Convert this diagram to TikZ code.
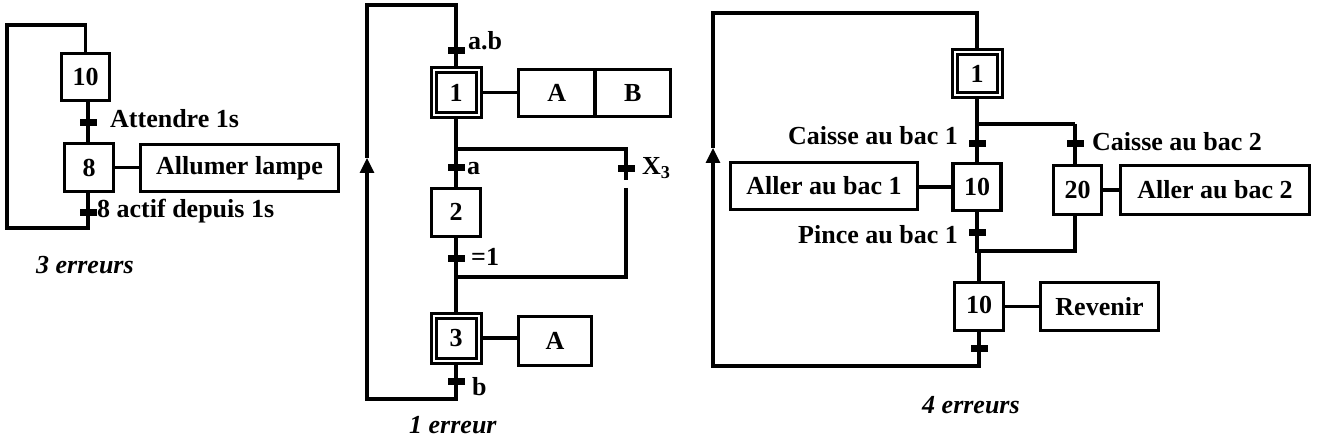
\documentclass[tikz,border=0pt]{standalone}
\usepackage{fontspec}
\setmainfont{Liberation Serif}
\usetikzlibrary{arrows.meta,calc}
\begin{document}
\begin{tikzpicture}[x=1pt,y=-1pt,
  every node/.style={font=\fontsize{26}{30}\selectfont\bfseries},
  etape/.style={draw,line width=3.3pt,inner sep=0pt},
  initiale/.style={draw,line width=3pt,double,double distance=2pt,inner sep=0pt},
  actionbox/.style={draw,line width=3.3pt,inner sep=0pt},
  trans/.style={fill=black,draw=none,inner sep=0pt,minimum width=17pt,minimum height=7pt},
  txt/.style={inner sep=0pt},
  bilan/.style={inner sep=0pt,font=\fontsize{26}{30}\selectfont\bfseries\itshape},
  ligne/.style={line width=3.2pt},
  fleche/.style={line width=3.2pt,-{Triangle[length=15pt,width=14pt]}}]
\useasboundingbox (0,0) rectangle (1318,441);

% ---------------- Diagram 1 ----------------
\node[etape,minimum width=48pt,minimum height=47pt] (a10) at (85.5,77) {10};
\node[etape,minimum width=49pt,minimum height=48pt] (a8) at (89,167.5) {8};
\node[actionbox,minimum width=198pt,minimum height=47pt] (aact) at (239.5,168) {Allumer lampe};
\node[trans] (at1) at (88,123) {};
\node[trans] (at2) at (88,212) {};
\coordinate (L1a) at (7,25);
\coordinate (L1b) at (7,228);
\draw[ligne] (a10.south -| at1) -- (a8.north -| at1);
\draw[ligne] (a8.east) -- (a8.east -| aact.west);
\draw[ligne] (a8.south -| at2) -- (L1b -| at2) -- (L1b) -- (L1a) -- (L1a -| a10.north) -- (a10.north);
\node[txt,anchor=base west] (al1) at (110,128) {Attendre 1s};
\node[txt,anchor=base west] (al2) at (97,218) {8 actif depuis 1s};
\node[bilan,anchor=base west] (ae) at (36,273) {3 erreurs};

% ---------------- Diagram 2 ----------------
\node[initiale,minimum size=45pt] (b1) at (456,92.5) {1};
\node[actionbox,minimum width=76.5pt,minimum height=47pt] (bA) at (556.75,93) {A};
\node[actionbox,minimum width=75.5pt,minimum height=47pt] (bB) at (632.75,93) {B};
\node[etape,minimum width=49pt,minimum height=48pt] (b2) at (456,212.5) {\raisebox{2pt}{2}\hspace{4pt}};
\node[initiale,minimum size=45pt] (b3) at (456,338) {3};
\node[actionbox,minimum width=73pt,minimum height=49pt] (bA3) at (555,341) {A};
\node[trans] (bt1) at (456,51) {};
\node[trans] (bt2) at (456,168) {};
\node[trans] (bt3) at (456,258) {};
\node[trans] (bt4) at (626,169) {};
\node[trans] (bt5) at (456,381) {};
\coordinate (T2a) at (367,5);
\coordinate (T2b) at (367,399);
\coordinate (arr2) at (367,158);
\coordinate (D1) at (626,149);
\coordinate (G1) at (626,180);
\coordinate (G2) at (626,188);
\coordinate (J1) at (626,277);
\draw[ligne] (b1.east) -- (b1.east -| bA.west);
\draw[ligne] (b3.east) -- (b3.east -| bA3.west);
\draw[ligne] (b1.south) -- (b1.south |- D1) -- (D1) -- (G1);
\draw[ligne] (b1.south |- D1) -- (b2.north);
\draw[ligne] (G2) -- (J1) -- (J1 -| b2.south);
\draw[ligne] (b2.south) -- (b3.north);
\draw[fleche] (b3.south) -- (b3.south |- T2b) -- (T2b) -- (arr2);
\draw[ligne] (arr2) -- (T2a) -- (T2a -| b1.north) -- (b1.north);
\node[txt,anchor=base west] (bl1) at (468,50) {a.b};
\node[txt,anchor=base west] (bl2) at (467,175) {a};
\node[txt,anchor=base west] (bl3) at (471,265) {=1};
\node[txt,anchor=base west] (bl4) at (642,175) {X\textsubscript{3}};
\node[txt,anchor=base west] (bl5) at (472,395) {b};
\node[bilan,anchor=base west] (be) at (409,433) {1 erreur};

% ---------------- Diagram 3 ----------------
\node[initiale,minimum width=45pt,minimum height=43pt] (c1) at (977,73.5) {1};
\node[etape,minimum width=48pt,minimum height=47pt] (c10a) at (977,187) {10};
\node[etape,minimum width=48pt,minimum height=49pt] (c20) at (1077.5,190) {20};
\node[etape,minimum width=49pt,minimum height=48pt] (c10b) at (979,306.5) {\raisebox{4pt}{10}\hspace{4pt}};
\node[actionbox,minimum width=187pt,minimum height=47pt] (cL) at (824,186) {Aller au bac 1};
\node[actionbox,minimum width=189pt,minimum height=49pt] (cR) at (1215,190) {Aller au bac 2};
\node[actionbox,minimum width=118pt,minimum height=48pt] (cRev) at (1099.5,306.5) {Revenir};
\node[trans] (ct1) at (977,144) {};
\node[trans] (ct2) at (1075,144) {};
\node[trans] (ct3) at (977,232) {};
\node[trans] (ct4) at (979,348) {};
\coordinate (T3a) at (713,13);
\coordinate (T3b) at (713,366);
\coordinate (arr3) at (713,148);
\coordinate (D3) at (1075,124);
\coordinate (J3) at (1075,251);
\draw[ligne] (c1.south) |- (D3);
\draw[ligne] (c10a.north) -- (c1.south);
\draw[ligne] (D3) -- (D3 |- c20.north);
\draw[ligne] (c10a.west) -- (c10a.west -| cL.east);
\draw[ligne] (c20.east) -- (c20.east -| cR.west);
\draw[ligne] (c10b.east) -- (c10b.east -| cRev.west);
\draw[ligne] (c10a.south) -- (c10a.south |- J3) -- (c10b.north |- J3) -- (c10b.north);
\draw[ligne] (c20.south -| D3) -- (J3) -- (J3 -| c10a.south);
\draw[fleche] (c10b.south) -- (c10b.south |- T3b) -- (T3b) -- (arr3);
\draw[ligne] (arr3) -- (T3a) -- (T3a -| c1.north) -- (c1.north);
\node[txt,anchor=base east] (cl1) at (958,145) {Caisse au bac 1};
\node[txt,anchor=base west] (cl2) at (1092,151) {Caisse au bac 2};
\node[txt,anchor=base east] (cl3) at (958,243) {Pince au bac 1};
\node[bilan,anchor=base west] (ce) at (922,413) {4 erreurs};
\end{tikzpicture}
\end{document}
